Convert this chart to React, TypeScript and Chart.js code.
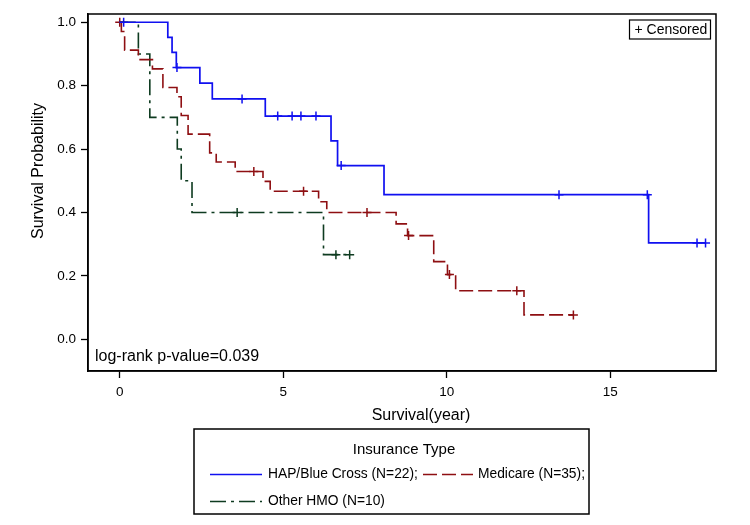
import React, { useEffect, useRef } from "react";
import { Chart, registerables } from "chart.js";

Chart.register(...registerables);

// ---------- data ----------
const seriesNames = ["HAP/Blue Cross (N=22);", "Medicare (N=35);", "Other HMO (N=10)"];

const hapTimes = [0, 1.47, 1.6, 1.73, 2.45, 2.83, 4.45, 6.46, 6.66, 8.08, 16.17, 17.91];
const hapSurv = [1.0, 0.952, 0.905, 0.857, 0.808, 0.758, 0.704, 0.626, 0.548, 0.456, 0.304, 0.304];
const hapCensorTimes = [0.12, 1.75, 3.74, 4.83, 5.27, 5.54, 6.0, 6.77, 13.43, 16.13, 17.65, 17.91];
const hapCensorSurv = [1.0, 0.857, 0.758, 0.704, 0.704, 0.704, 0.704, 0.548, 0.456, 0.456, 0.304, 0.304];

const medTimes = [0, 0.05, 0.15, 0.57, 1.0, 1.32, 1.75, 1.88, 2.09, 2.75, 2.95, 3.53, 4.38, 4.6, 6.08, 6.33, 8.45, 8.8, 9.6, 10.02, 10.27, 12.36, 13.87];
const medSurv = [1.0, 0.971, 0.912, 0.882, 0.853, 0.794, 0.765, 0.706, 0.647, 0.588, 0.559, 0.529, 0.498, 0.467, 0.434, 0.4, 0.364, 0.327, 0.245, 0.204, 0.153, 0.077, 0.077];
const medCensorTimes = [0.0, 4.1, 5.62, 7.56, 8.83, 10.08, 12.14, 13.87];
const medCensorSurv = [1.0, 0.529, 0.467, 0.4, 0.327, 0.204, 0.153, 0.077];

const hmoTimes = [0, 0.57, 0.92, 1.76, 1.88, 2.21, 6.23, 7.03];
const hmoSurv = [1.0, 0.9, 0.7, 0.6, 0.5, 0.4, 0.267, 0.267];
const hmoCensorTimes = [3.59, 6.61, 7.03];
const hmoCensorSurv = [0.4, 0.267, 0.267];

const xTicks = [0, 5, 10, 15];
const yTicks = [0, 0.2, 0.4, 0.6, 0.8, 1.0];

const legendTitle = "Insurance Type";
const pValueText = "log-rank p-value=0.039";
const censorText = "+ Censored";
const xTitle = "Survival(year)";
const yTitle = "Survival Probability";

// ---------- styles ----------
const FONT = '"Liberation Sans", Arial, sans-serif';
const colors = ["#1010F0", "#8E0F12", "#0E3B20"];
const dashes: number[][] = [[], [14, 5], [16, 5, 3, 5]];

const pts = (xs: number[], ys: number[]) => xs.map((x, i) => ({ x, y: ys[i] }));

const decorPlugin = {
  id: "decor",
  afterDraw(chart: any) {
    const { ctx, chartArea: a } = chart;
    ctx.save();
    ctx.strokeStyle = "#000";
    ctx.lineWidth = 1.5;
    ctx.setLineDash([]);
    ctx.strokeRect(a.left, a.top, a.right - a.left, a.bottom - a.top);

    ctx.fillStyle = "#000";
    // p-value
    ctx.font = `16px ${FONT}`;
    ctx.textAlign = "left";
    ctx.textBaseline = "alphabetic";
    ctx.fillText(pValueText, a.left + 7, a.bottom - 10);

    // censored box
    ctx.lineWidth = 1.2;
    ctx.strokeRect(629.5, 20, 81, 19);
    ctx.font = `14px ${FONT}`;
    ctx.textBaseline = "middle";
    ctx.fillText(censorText, 634.5, 30);

    // x title
    ctx.font = `16px ${FONT}`;
    ctx.textAlign = "center";
    ctx.textBaseline = "alphabetic";
    ctx.fillText(xTitle, 421, 419.5);

    // y title
    ctx.save();
    ctx.translate(43, 171);
    ctx.rotate(-Math.PI / 2);
    ctx.fillText(yTitle, 0, 0);
    ctx.restore();

    // legend box
    ctx.lineWidth = 1.5;
    ctx.strokeRect(194, 429, 395, 85);
    ctx.font = `15px ${FONT}`;
    ctx.textAlign = "center";
    ctx.fillText(legendTitle, 404, 453.5);

    ctx.font = `13.8px ${FONT}`;
    ctx.textAlign = "left";
    ctx.textBaseline = "middle";
    const drawEntry = (i: number, x: number, y: number, len: number, gap: number) => {
      ctx.save();
      ctx.strokeStyle = colors[i];
      ctx.lineWidth = 1.5;
      ctx.setLineDash(dashes[i]);
      ctx.beginPath();
      ctx.moveTo(x, y);
      ctx.lineTo(x + len, y);
      ctx.stroke();
      ctx.restore();
      ctx.fillStyle = "#000";
      ctx.fillText(seriesNames[i], x + len + gap, y);
    };
    drawEntry(0, 210, 474.5, 52, 6);
    drawEntry(1, 423, 474.5, 50, 5);
    drawEntry(2, 210, 501.5, 52, 6);
    ctx.restore();
  },
};

export default function App() {
  const ref = useRef<HTMLCanvasElement | null>(null);

  useEffect(() => {
    document.body.style.margin = "0";
    if (!ref.current) return;
    const lineSets = [
      pts(hapTimes, hapSurv),
      pts(medTimes, medSurv),
      pts(hmoTimes, hmoSurv),
    ];
    const censorSets = [
      pts(hapCensorTimes, hapCensorSurv),
      pts(medCensorTimes, medCensorSurv),
      pts(hmoCensorTimes, hmoCensorSurv),
    ];
    const datasets: any[] = [];
    lineSets.forEach((d, i) => {
      datasets.push({
        type: "line",
        label: seriesNames[i],
        data: d,
        stepped: "before",
        borderColor: colors[i],
        borderWidth: i === 0 ? 1.7 : 1.6,
        borderDash: dashes[i],
        pointRadius: 0,
        fill: false,
      });
    });
    censorSets.forEach((d, i) => {
      datasets.push({
        type: "scatter",
        label: seriesNames[i] + " censored",
        data: d,
        showLine: false,
        pointStyle: "cross",
        pointRadius: 4.5,
        pointBorderWidth: 1.5,
        borderColor: colors[i],
        backgroundColor: colors[i],
      });
    });

    const chart = new Chart(ref.current, {
      type: "line",
      data: { datasets },
      options: {
        animation: false,
        responsive: false,
        layout: { padding: { top: 14, right: 34, left: 0, bottom: 0 } },
        plugins: {
          legend: { display: false },
          tooltip: { enabled: false },
        },
        scales: {
          x: {
            type: "linear",
            min: -0.97,
            max: 18.23,
            afterFit: (s: any) => {
              s.height = 154;
            },
            afterBuildTicks: (s: any) => {
              s.ticks = xTicks.map((v) => ({ value: v }));
            },
            ticks: {
              color: "#000",
              font: { family: FONT, size: 13.5 },
              padding: 6,
              maxRotation: 0,
              callback: (v: any) => String(v),
            },
            grid: {
              display: true,
              drawOnChartArea: false,
              drawTicks: true,
              tickLength: 7,
              tickColor: "#000",
              tickWidth: 1.3,
            },
            border: { display: true, color: "#000", width: 1.5 },
          },
          y: {
            type: "linear",
            min: -0.1,
            max: 1.026,
            afterFit: (s: any) => {
              s.width = 88;
            },
            afterBuildTicks: (s: any) => {
              s.ticks = yTicks.map((v) => ({ value: v }));
            },
            ticks: {
              color: "#000",
              font: { family: FONT, size: 13.5 },
              padding: 5,
              callback: (v: any) => Number(v).toFixed(1),
            },
            grid: {
              display: true,
              drawOnChartArea: false,
              drawTicks: true,
              tickLength: 7,
              tickColor: "#000",
              tickWidth: 1.3,
            },
            border: { display: true, color: "#000", width: 1.5 },
          },
        },
      },
      plugins: [decorPlugin],
    } as any);
    return () => chart.destroy();
  }, []);

  return (
    <div style={{ width: 750, height: 525, background: "#fff" }}>
      <canvas ref={ref} width={750} height={525} style={{ display: "block" }} />
    </div>
  );
}
